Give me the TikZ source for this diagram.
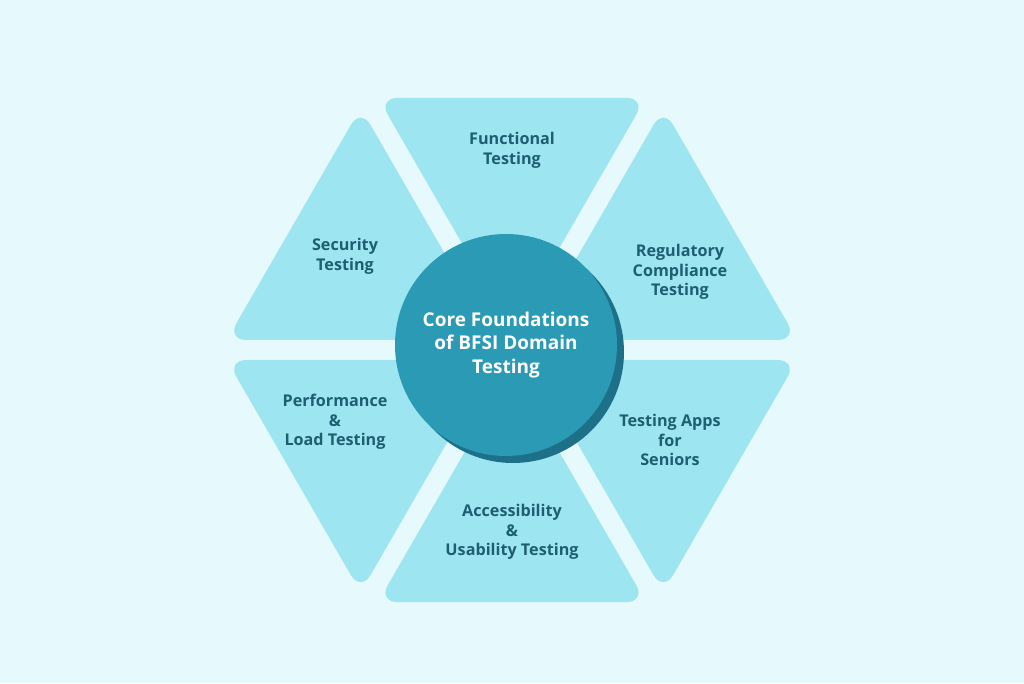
\documentclass[tikz,border=0pt]{standalone}
\usepackage{fontspec}
\setmainfont{Open Sans}
\definecolor{bgblue}{HTML}{E6F9FD}
\definecolor{triblue}{HTML}{9DE5F0}
\definecolor{coreblue}{HTML}{2A9AB5}
\definecolor{shadowblue}{HTML}{1D7088}
\definecolor{labeltext}{HTML}{1E5E72}
\tikzset{
	seglabel/.style={align=center, text=labeltext, font=\bfseries\fontsize{11.5}{14}\selectfont},
	corelabel/.style={align=center, text=white, font=\bfseries\fontsize{13.5}{17}\selectfont}
}
\begin{document}
\begin{tikzpicture}[x=0.025cm, y=0.025cm]
	\def \gap{20}
	\def \rad{268}
	\fill[bgblue] (0, 0) rectangle (1024, 683);
	\useasboundingbox (0, 0) rectangle (1024, 683);
	\begin{scope}[shift={(512, 333)}]
	\foreach \ang in {90, 30, -30, -90, -150, 150}
	{
		\fill[triblue, rounded corners=14]
			(\ang:\gap) -- ++(\ang-30:\rad) -- ++(\ang+90:\rad) -- cycle;
	}
	\end{scope}
	\fill[shadowblue] (513, 331) circle (111);
	\node[circle, fill=coreblue, minimum size=222*0.025cm, inner sep=0] (core) at (506, 338) {};
	\node[corelabel] at (core) {Core Foundations\\of BFSI Domain\\Testing};
	\node[seglabel] (functional) at (512, 533) {Functional\\Testing};
	\node[seglabel] (security) at (345, 427) {Security\\Testing};
	\node[seglabel] (regulatory) at (680, 411) {Regulatory\\Compliance\\Testing};
	\node[seglabel] (performance) at (335, 261) {Performance\\\&\\Load Testing};
	\node[seglabel] (seniors) at (670, 243) {Testing Apps\\for\\Seniors};
	\node[seglabel] (accessibility) at (512, 151) {Accessibility\\\&\\Usability Testing};
\end{tikzpicture}
\end{document}
